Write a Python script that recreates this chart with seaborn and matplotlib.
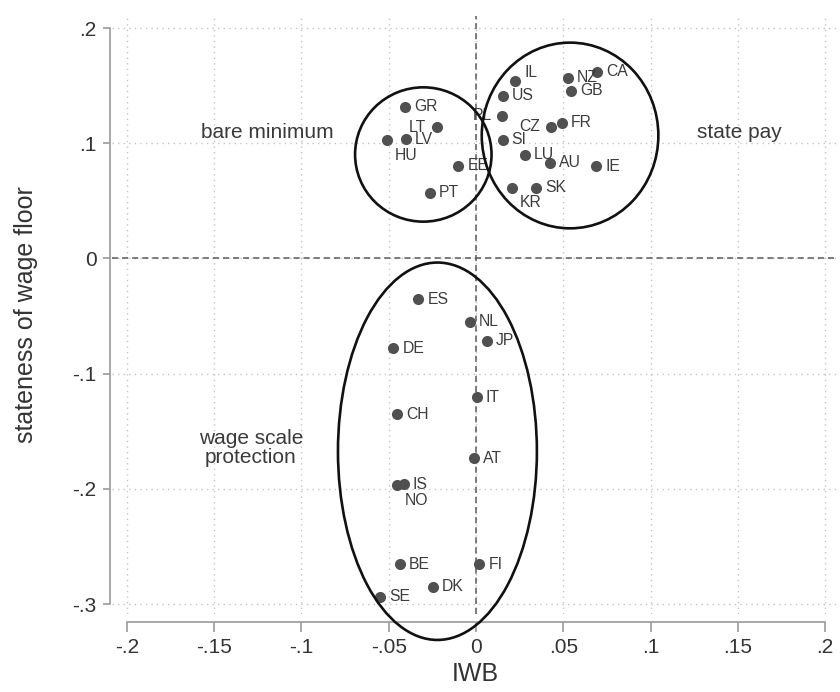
import matplotlib
matplotlib.use("Agg")
import matplotlib.pyplot as plt
import seaborn as sns
import pandas as pd
from matplotlib.patches import Ellipse
from matplotlib.ticker import FixedLocator, FuncFormatter

# ---------------- data ----------------
countries = ["IL", "CA", "NZ", "GB", "US", "PL", "FR", "CZ", "SI", "LU", "AU",
             "IE", "SK", "KR", "GR", "LT", "LV", "HU", "EE", "PT",
             "ES", "NL", "JP", "DE", "IT", "CH", "AT", "IS", "NO",
             "BE", "FI", "DK", "SE"]
iwb = [0.0224, 0.0692, 0.0525, 0.0545, 0.0153, 0.0149, 0.0491, 0.0428, 0.0153,
       0.0281, 0.0424, 0.0688, 0.0344, 0.0206, -0.0407, -0.0225, -0.0401,
       -0.0512, -0.0101, -0.0264,
       -0.0331, -0.0034, 0.0061, -0.0474, 0.0004, -0.0450, -0.0011, -0.0413,
       -0.0451, -0.0435, 0.0019, -0.0248, -0.0550]
stateness = [0.154, 0.162, 0.157, 0.1456, 0.141, 0.1239, 0.1178, 0.1143, 0.1028,
             0.0898, 0.0831, 0.0802, 0.0614, 0.0614, 0.1317, 0.1138, 0.1034,
             0.1028, 0.0805, 0.0570,
             -0.0355, -0.0549, -0.0714, -0.0780, -0.1206, -0.1353, -0.1735,
             -0.1960, -0.1970, -0.2655, -0.2655, -0.2850, -0.2937]

# clock position of each marker label (default: 3 o'clock)
label_clock = {"IL": 2, "PL": 9, "CZ": 9, "LT": 9, "KR": 4, "HU": 4, "NO": 4}

group_names = ["bare minimum", "state pay", "wage scale\nprotection"]
group_center_x = [-0.0302, 0.0539, -0.0221]
group_center_y = [0.0902, 0.1067, -0.1674]
group_width = [0.0782, 0.1012, 0.1140]
group_height = [0.1166, 0.1612, 0.3276]
group_text_x = [-0.1195, 0.151, -0.129]
group_text_y = [0.1045, 0.1049, -0.1779]

x_ticks = [-0.2, -0.15, -0.1, -0.05, 0, 0.05, 0.1, 0.15, 0.2]
y_ticks = [-0.3, -0.2, -0.1, 0, 0.1, 0.2]

df = pd.DataFrame({"country": countries, "IWB": iwb, "stateness": stateness})

# ---------------- style ----------------
sns.set_style("white")
plt.rcParams["font.family"] = ["Liberation Sans", "DejaVu Sans"]

fig = plt.figure(figsize=(8.4, 6.92), dpi=100)
ax = fig.add_axes([112 / 840, (692 - 614) / 692, (838 - 112) / 840, (614 - 16) / 692])

ax.set_xlim((112 - 476) / 1745, (838 - 476) / 1745)
ax.set_ylim((258.4 - 614) / 1152, (258.4 - 16) / 1152)

# grid
ax.xaxis.set_major_locator(FixedLocator(x_ticks))
ax.yaxis.set_major_locator(FixedLocator(y_ticks))
ax.grid(True, linestyle=(0, (1, 3)), color="#c4c4c4", linewidth=1.0, zorder=0)
ax.set_axisbelow(True)

# reference lines
ax.axhline(0, color="#5a5a5a", linewidth=1.1, linestyle=(0, (4, 2.6)), zorder=1)
ax.axvline(0, color="#5a5a5a", linewidth=1.1, linestyle=(0, (4, 2.6)), zorder=1)

# points
sns.scatterplot(data=df, x="IWB", y="stateness", ax=ax, color="#505050",
                s=64, linewidth=0, zorder=3, legend=False)

# labels
offsets = {3: ((6.5, 0), "left"), 9: ((-7.5, 0), "right"),
           2: ((7.0, 5.8), "left"), 4: ((5.5, -11.0), "left")}
for c, xv, yv in zip(countries, iwb, stateness):
    (dx, dy), ha = offsets[label_clock.get(c, 3)]
    ax.annotate(c, (xv, yv), xytext=(dx, dy), textcoords="offset points",
                ha=ha, va="center", fontsize=11.3, color="#3c3c3c", zorder=4)

# ellipses
for cx, cy, w, h in zip(group_center_x, group_center_y, group_width, group_height):
    e = Ellipse((cx, cy), w, h, fill=False, edgecolor="#111111", linewidth=1.9,
                zorder=5, clip_on=False)
    ax.add_patch(e)

for name, tx, ty in zip(group_names, group_text_x, group_text_y):
    ax.text(tx, ty, name, ha="center", va="baseline", fontsize=15,
            color="#3a3a3a", linespacing=1.05, multialignment="center")

# axes styling (Stata-like)
for s in ["top", "right"]:
    ax.spines[s].set_visible(False)
ax.spines["left"].set_position(("outward", 1.5))
ax.spines["bottom"].set_position(("outward", 5.8))
ax.spines["left"].set_bounds(-0.3, 0.2)
ax.spines["bottom"].set_bounds(-0.2, 0.2)
for s in ["left", "bottom"]:
    ax.spines[s].set_color("#9a9a9a")
    ax.spines[s].set_linewidth(1.2)


def stata_fmt(v, pos):
    if abs(v) < 1e-12:
        return "0"
    t = ("%.2f" % v).rstrip("0")
    t = t.replace("0.", ".")
    return t


ax.xaxis.set_major_formatter(FuncFormatter(stata_fmt))
ax.yaxis.set_major_formatter(FuncFormatter(stata_fmt))
ax.tick_params(axis="both", which="major", direction="out", color="#9a9a9a",
               width=1.2, labelsize=15, labelcolor="#333333")
ax.tick_params(axis="y", length=5, pad=4.5, left=True)
ax.tick_params(axis="x", length=7.5, pad=4, bottom=True)

ax.set_xlabel("IWB", fontsize=18, color="#333333", labelpad=3.5)
ax.set_ylabel("stateness of wage floor", fontsize=18, color="#333333", labelpad=25)

fig.savefig("out.png", dpi=100)
